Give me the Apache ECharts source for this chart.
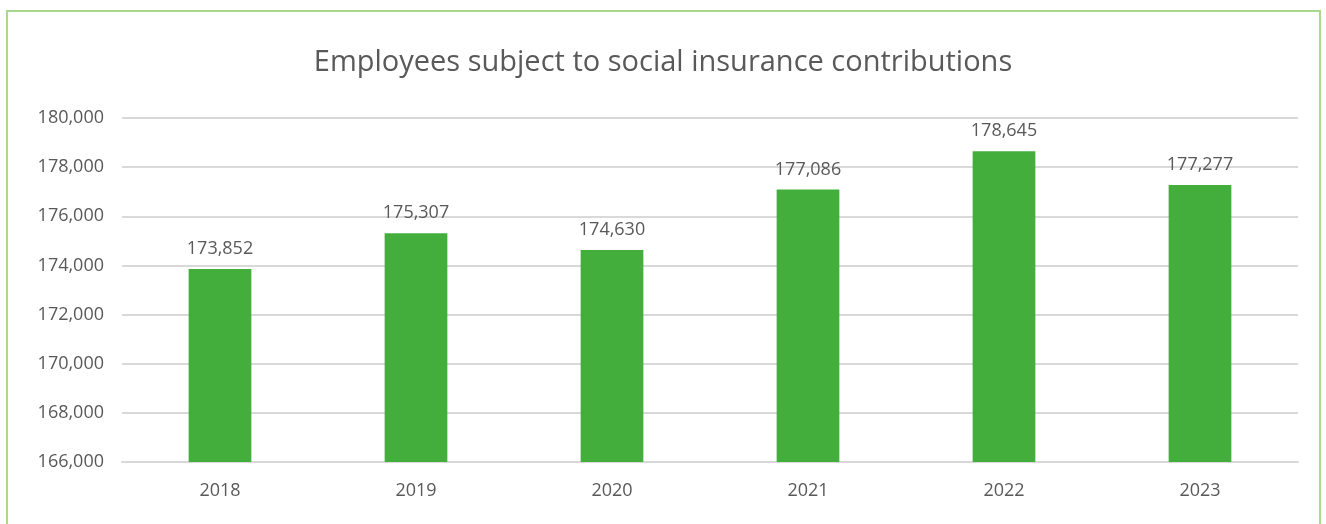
<!DOCTYPE html>
<html>
<head>
<meta charset="utf-8">
<script src="https://cdn.jsdelivr.net/npm/echarts@6/dist/echarts.min.js"></script>
<style>
  html, body { margin: 0; padding: 0; background: #fff; }
  #frame { position: absolute; left: 6px; top: 10px; width: 1315px; height: 540px;
           border: 2px solid #A9D98C; box-sizing: border-box; }
  #chart { position: absolute; left: 0; top: 0; width: 1326px; height: 524px; }
</style>
</head>
<body>
<div id="frame"></div>
<div id="chart"></div>
<script>
// Employees subject to social insurance contributions, by year
const years = ['2018', '2019', '2020', '2021', '2022', '2023'];
const employees = [173852, 175307, 174630, 177086, 178645, 177277];
const yMin = 166000;
const yMax = 180000;
const yStep = 2000;

const fontFamily = '"Open Sans", "Noto Sans", sans-serif';
const textColor = '#595959';

const chart = echarts.init(document.getElementById('chart'), null, { renderer: 'canvas' });
chart.setOption({
  animation: false,
  title: {
    text: 'Employees subject to social insurance contributions',
    left: 'center',
    top: 43,
    textStyle: { fontFamily, fontSize: 29, fontWeight: 'normal', color: textColor }
  },
  grid: { left: 122, right: 28, top: 118, bottom: 62, containLabel: false },
  xAxis: {
    type: 'category',
    data: years,
    axisLine: { show: true, lineStyle: { color: '#D9D9D9', width: 2 } },
    axisTick: { show: false },
    axisLabel: { fontFamily, fontSize: 18, color: textColor, margin: 20 }
  },
  yAxis: {
    type: 'value',
    min: yMin,
    max: yMax,
    interval: yStep,
    axisLine: { show: false },
    axisTick: { show: false },
    splitLine: { lineStyle: { color: '#D9D9D9', width: 2 } },
    axisLabel: {
      fontFamily, fontSize: 18, color: textColor, margin: 18,
      formatter: v => v.toLocaleString('en-US')
    }
  },
  series: [{
    type: 'bar',
    data: employees,
    barWidth: '32%',
    itemStyle: { color: '#44AE3C' },
    label: {
      show: true,
      position: 'top',
      distance: 11,
      fontFamily, fontSize: 18, color: textColor,
      formatter: p => p.value.toLocaleString('en-US')
    }
  }]
});
</script>
</body>
</html>
